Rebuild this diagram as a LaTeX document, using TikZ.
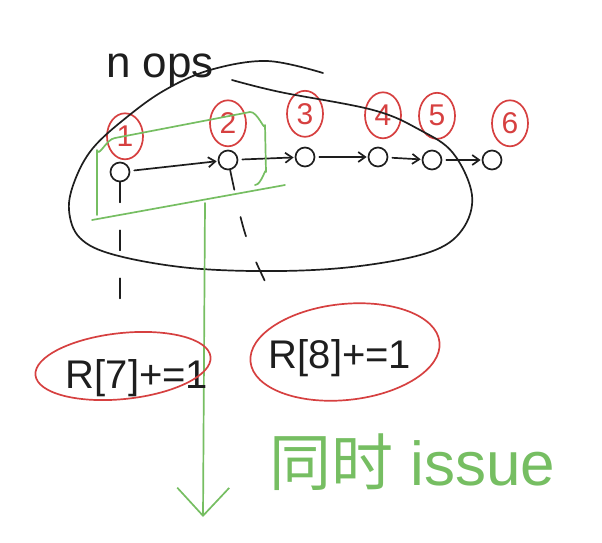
\documentclass[tikz,border=0pt]{standalone}
\usepackage{fontspec}
\setmainfont{Liberation Sans}
\newfontfamily\cjk{Noto Sans CJK SC}
\usepackage{xcolor}
\usetikzlibrary{positioning,arrows.meta,shapes.geometric}

\definecolor{penred}{RGB}{214,64,64}
\definecolor{pengreen}{RGB}{118,190,98}
\definecolor{penblack}{RGB}{30,30,30}

\begin{document}
\begin{tikzpicture}[
  x=1pt, y=-1pt,
  ink/.style={line width=1.7pt, line cap=round, line join=round},
  pen/.style={ink, draw=penblack},
  redpen/.style={ink, draw=penred},
  greenpen/.style={ink, draw=pengreen},
  op/.style={circle, pen, minimum size=19pt, inner sep=0pt},
  num/.style={ellipse, redpen, text=penred, minimum width=36pt, minimum height=46pt,
              inner sep=0pt, font=\fontsize{30}{30}\selectfont},
  stmt/.style={text=penblack, inner sep=0pt, font=\fontsize{40}{40}\selectfont},
  >={Straight Barb[length=7pt,width=10pt]}
]
  \useasboundingbox (0,0) rectangle (602,542);

  % instruction chain
  \node[op] (o1) at (120,172) {};
  \node[op] (o2) at (228,160) {};
  \node[op] (o3) at (305,157) {};
  \node[op] (o4) at (378,157) {};
  \node[op] (o5) at (432,160) {};
  \node[op] (o6) at (492,160) {};

  \node[num] (n1) [above=1.5pt of o1, xshift=5pt] {1};
  \node[num] (n2) [above=2.5pt of o2] {2};
  \node[num] (n3) [above=9pt of o3] {3};
  \node[num] (n4) [above=7.5pt of o4, xshift=5pt] {4};
  \node[num] (n5) [above=10pt of o5, xshift=5pt] {5};
  \node[num] (n6) [above=2.5pt of o6, xshift=18pt] {6};

  \foreach \a/\b in {o1/o2,o2/o3,o3/o4,o4/o5,o5/o6}
    \draw[pen, ->, shorten <=4pt, shorten >=1pt] (\a) -- (\b);

  % window of n ops
  \node[text=penblack, font=\fontsize{44}{44}\selectfont] (nops) at (160,70) {n ops};
  \draw[pen] plot[smooth, tension=0.6] coordinates {
    (232,80) (280,92) (373,110) (420,130) (453,153) (472,195) (462,230)
    (430,252) (360,266) (280,271) (190,268) (115,255) (80,238) (69,210)
    (75,180) (93,148) (127,117) (165,90) (210,70) (267,61) (323,73)};

  % ops that can go together
  \draw[greenpen] (97,215) -- (97,150) to[out=-80,in=185] (115,138)
    -- (250,112) to[out=5,in=-90] (265,125) -- (266,172) to[out=90,in=0] (255,185);
  \draw[greenpen] (92,220) -- (285,185);
  \coordinate (g0) at (205,203);
  \coordinate (g1) at (203,517);
  \draw[greenpen, -{Straight Barb[length=28pt,width=52pt]}] (g0) -- (g1);
  \node[text=pengreen, font=\fontsize{62}{62}\selectfont] (issue) at (412,462)
    {{\cjk 同时} issue};

  % register updates
  \node[stmt] (s1) at (137,378) {R[7]+=1};
  \node[stmt] (s2) at (340,358) {R[8]+=1};
  \draw[redpen, rotate around={6:(123,366)}] (123,366) ellipse [x radius=88, y radius=33];
  \draw[redpen, rotate around={6:(345,352)}] (345,352) ellipse [x radius=95, y radius=48];

  \coordinate (d1) at (120,322);
  \coordinate (d2) at (275,302);
  \draw[pen, dash pattern=on 20pt off 28pt] (o1) -- (d1);
  \draw[pen, dash pattern=on 20pt off 28pt] (o2) .. controls (245,240) .. (d2);
\end{tikzpicture}
\end{document}
